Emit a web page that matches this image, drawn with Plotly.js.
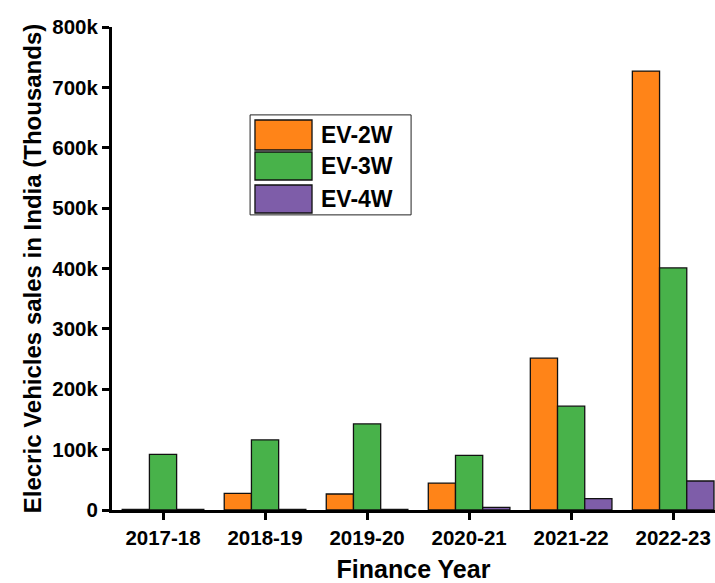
<!DOCTYPE html>
<html>
<head>
<meta charset="utf-8">
<script src="https://cdn.plot.ly/plotly-3.0.1.min.js"></script>
<style>html,body{margin:0;padding:0;background:#fff;}#chart{width:715px;height:583px;}</style>
</head>
<body>
<div id="chart"></div>
<script>
const years = ["2017-18", "2018-19", "2019-20", "2020-21", "2021-22", "2022-23"];
const seriesNames = ["EV-2W", "EV-3W", "EV-4W"];
const ev2w = [1, 27.5, 26.5, 44.5, 251.5, 727];
const ev3w = [92, 116, 142.5, 90.5, 172, 401];
const ev4w = [1, 1, 1, 4.5, 19, 48];
const colors = ["#FF8418", "#48B24A", "#7E5DA9"];
const yTickVals = [0, 100, 200, 300, 400, 500, 600, 700, 800];
const yTickText = ["0", "100k", "200k", "300k", "400k", "500k", "600k", "700k", "800k"];

const allValues = [ev2w, ev3w, ev4w];
const traces = allValues.map((vals, i) => ({
  type: "bar",
  x: years,
  y: vals,
  name: seriesNames[i],
  marker: {color: colors[i], line: {color: "#111", width: 1.3}},
  showlegend: false,
  hoverinfo: "x+y+name"
}));

// custom legend (large swatches like the reference)
const shapes = [{
  type: "rect", xref: "paper", yref: "paper",
  x0: 0.229, x1: 0.496, y0: 0.611, y1: 0.818,
  line: {color: "#222", width: 1}, fillcolor: "#fff"
}];
const annotations = [];
const rowTops = [0.8075, 0.7412, 0.6729];
const rowBots = [0.7453, 0.6832, 0.6149];
seriesNames.forEach((name, i) => {
  shapes.push({
    type: "rect", xref: "paper", yref: "paper",
    x0: 0.2371, x1: 0.3317, y0: rowBots[i], y1: rowTops[i],
    line: {color: "#111", width: 1.3}, fillcolor: colors[i]
  });
  annotations.push({
    xref: "paper", yref: "paper", x: 0.343, y: (rowTops[i] + rowBots[i]) / 2,
    xanchor: "left", yanchor: "middle", showarrow: false,
    text: "<b>" + name + "</b>",
    font: {family: "Liberation Sans, Arial, sans-serif", size: 23, color: "#000"}
  });
});

const layout = {
  width: 715, height: 583,
  margin: {l: 112, r: 0, t: 27, b: 73},
  paper_bgcolor: "#fff", plot_bgcolor: "#fff",
  barmode: "group", bargap: 0.2, bargroupgap: 0,
  font: {family: "Liberation Sans, Arial, sans-serif", color: "#000"},
  xaxis: {
    type: "category",
    range: [-0.5, 5.41],
    showline: true, linecolor: "#000", linewidth: 3,
    ticks: "outside", ticklen: 7, tickwidth: 3, tickcolor: "#000",
    showgrid: false, zeroline: false,
    tickfont: {size: 20.5, family: "Liberation Sans, Arial, sans-serif", weight: "bold"},
    title: {text: "<b>Finance Year</b>", font: {size: 25}, standoff: 15}
  },
  yaxis: {
    range: [0, 800],
    tickvals: yTickVals, ticktext: yTickText,
    showline: true, linecolor: "#000", linewidth: 3,
    ticks: "outside", ticklen: 7, tickwidth: 3, tickcolor: "#000",
    showgrid: false, zeroline: false,
    tickfont: {size: 20.5, family: "Liberation Sans, Arial, sans-serif", weight: "bold"},
    title: {text: "<b>Elecric Vehicles sales in India (Thousands)</b>", font: {size: 24}, standoff: 4}
  },
  shapes: shapes,
  annotations: annotations
};

Plotly.newPlot("chart", traces, layout, {displayModeBar: false, staticPlot: true});
</script>
</body>
</html>
